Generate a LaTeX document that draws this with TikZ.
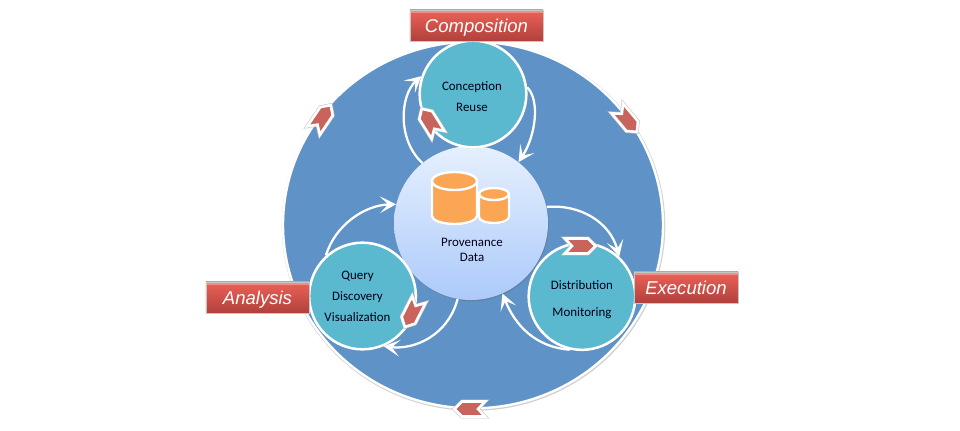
\documentclass[tikz,border=0pt]{standalone}
\usepackage{fontspec}
\setmainfont{Carlito}
\newfontfamily\boxfont{Liberation Sans}
\usetikzlibrary{arrows.meta,shapes.geometric,shadows}
\definecolor{bigblue}{HTML}{5F92C7}
\definecolor{tealdisc}{HTML}{5AB8CF}
\definecolor{chev}{HTML}{C9645C}
\definecolor{barrel}{HTML}{FAA654}
\definecolor{coretop}{HTML}{E6F0FE}
\definecolor{corebot}{HTML}{ACCAFA}
\definecolor{reda}{HTML}{B0403C}
\definecolor{redb}{HTML}{E25C52}
\definecolor{redc}{HTML}{F48C82}
\pgfdeclareverticalshading{redbar}{100bp}{color(0bp)=(reda);
color(25bp)=(reda);
color(66bp)=(redb);
color(70bp)=(redb);
color(71bp)=(redc);
color(75bp)=(redc);
color(100bp)=(redc)}
\tikzset{
  x=0.75pt,y=-0.75pt,
  softshadow/.style={drop shadow={shadow xshift=0.6pt,shadow yshift=-0.9pt,opacity=0.35,fill=black!60}},
  bigdisc/.style={ellipse,draw=white,line width=1.8pt,fill=bigblue,minimum width=285pt,minimum height=275pt,inner sep=0pt},
  stage/.style={circle,draw=white,line width=1.9pt,fill=tealdisc,minimum size=80pt,inner sep=0pt,softshadow},
  core/.style={circle,minimum size=115.5pt,inner sep=0pt,top color=coretop,bottom color=corebot,softshadow},
  phase/.style={rectangle,shading=redbar,draw=black!22,line width=0.5pt,inner sep=0pt,font=\boxfont\itshape\fontsize{13.9}{16}\selectfont,text=white,text height=11.2pt,text depth=0pt},
  lbl/.style={align=center,inner sep=0pt,text=black!90!blue},
  flow/.style={draw=white,line width=1.7pt,-{Stealth[length=12pt,width=12.5pt,inset=6pt]}},
  chevpath/.style={line join=miter,miter limit=8},
  pics/chevron/.style={code={
    \draw[chevpath,draw=black!22,line width=2.8pt]
      (-15,-7.5) -- (8,-7.5) -- (15.5,0) -- (8,7.5) -- (-15,7.5) -- (-8,0) -- cycle;
    \draw[chevpath,fill=chev,draw=white,line width=1.9pt]
      (-15,-7.5) -- (8,-7.5) -- (15.5,0) -- (8,7.5) -- (-15,7.5) -- (-8,0) -- cycle;
  }},
  barrelshape/.style={fill=barrel,draw=white,line width=1.8pt,softshadow},
  barrelrim/.style={draw=white,line width=1.8pt},
}
\begin{document}
\begin{tikzpicture}
\useasboundingbox (0,0) rectangle (960,430);
\fill[black!18] (473.5,225.8) ellipse[x radius=191.8,y radius=185];
\node[bigdisc] (outer) at (473,225) {};

\node[core] (prov) at (471,223) {};
\node[stage] (conc) at (473,94) {};
\node[stage] (ana) at (362.5,296) {};
\node[stage] (exe) at (582,296.5) {};

\draw[flow] (prov.129) .. controls (397,140) and (400,95) .. (conc.161);
\draw[flow] (conc.7) .. controls (540,100) and (536,135) .. (prov.52);
\draw[flow] (ana.132) .. controls (335,225) and (365,205) .. (prov.166);
\draw[flow] (prov.-100) .. controls (448,335) and (415,350) .. (ana.-67.5);
\draw[flow] (prov.12) .. controls (580,204) and (610,222) .. (exe.47);
\draw[flow] (exe.257) .. controls (535,347) and (515,325) .. (prov.-66);

\draw[barrelshape] (432,181) -- (432,216) arc[start angle=180,end angle=0,x radius=22.5,y radius=8] -- (477,181) arc[start angle=360,end angle=180,x radius=22.5,y radius=9] -- cycle;
\draw[barrelrim] (432,181) arc[start angle=180,end angle=0,x radius=22.5,y radius=9];
\draw[barrelshape] (479,194) -- (479,217) arc[start angle=180,end angle=0,x radius=15,y radius=6] -- (509,194) arc[start angle=360,end angle=180,x radius=15,y radius=6] -- cycle;
\draw[barrelrim] (479,194) arc[start angle=180,end angle=0,x radius=15,y radius=6];

\node[phase,minimum width=100pt,minimum height=23.5pt] (compo) at (476.5,25.5) {Composition};
\node[phase,minimum width=77.5pt,minimum height=23.5pt] (anabox) at (257.5,297.5) {Analysis};
\node[phase,minimum width=78pt,minimum height=23.5pt] (exebox) at (686,287.5) {Execution};

\pic[rotate=56] at (322,118) {chevron};
\pic[rotate=-50] at (627,120) {chevron};
\pic at (580,246) {chevron};
\pic[rotate=180] at (470,409) {chevron};
\pic[rotate=122] at (430,122) {chevron};
\pic[rotate=243] at (412,313) {chevron};

\node[lbl,font=\fontsize{9.7}{15.75}\selectfont] (t1) at (472,96.5) {Conception\\Reuse};
\node[lbl,font=\fontsize{9.7}{15.75}\selectfont] (t2) at (357.5,296) {Query\\Discovery\\Visualization};
\node[lbl,font=\fontsize{9.7}{20.25}\selectfont] (t3) at (582,300) {Distribution\\Monitoring};
\node[lbl,font=\fontsize{9.7}{11.25}\selectfont] (t4) at (472,249.5) {Provenance\\Data};
\end{tikzpicture}
\end{document}
